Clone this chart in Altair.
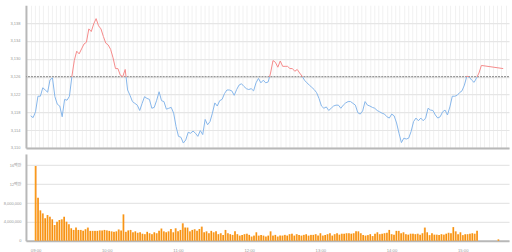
import json
import altair as alt
import pandas as pd

# ---- data (2-minute samples from 09:00, plus the 15:30 close) ----
price = [
    3117.2, 3116.8, 3118.1, 3121.6, 3121.6, 3123.5, 3123.0, 3122.5, 3125.3, 3125.7,
    3121.5, 3119.8, 3119.4, 3117.0, 3120.9, 3120.7, 3121.6, 3126.0, 3129.6, 3131.7,
    3131.1, 3132.2, 3133.3, 3133.7, 3136.7, 3136.1, 3137.8, 3139.0, 3137.4, 3136.7,
    3135.0, 3133.5, 3133.1, 3132.1, 3130.2, 3127.8, 3127.8, 3126.3, 3126.0, 3127.6,
    3123.0, 3121.8, 3120.4, 3120.0, 3119.6, 3118.4, 3120.0, 3121.5, 3121.1, 3120.9,
    3118.9, 3119.1, 3120.7, 3122.6, 3120.6, 3120.4, 3118.7, 3118.9, 3119.1, 3117.8,
    3114.8, 3112.6, 3112.4, 3111.1, 3111.8, 3113.5, 3113.3, 3113.8, 3113.3, 3112.6,
    3113.9, 3113.0, 3116.4, 3115.2, 3115.9, 3117.8, 3120.1, 3119.4, 3120.6, 3120.9,
    3122.2, 3123.0, 3123.0, 3122.8, 3121.8, 3123.1, 3124.1, 3124.4, 3123.8, 3123.3,
    3123.1, 3123.3, 3122.8, 3124.6, 3125.6, 3124.6, 3125.2, 3124.6, 3124.8, 3126.8,
    3129.6, 3129.2, 3128.1, 3129.5, 3128.3, 3128.3, 3128.3, 3127.8, 3127.8, 3127.2,
    3127.6, 3126.8, 3126.1, 3125.2, 3124.6, 3124.1, 3123.6, 3123.1, 3122.4, 3121.1,
    3119.4, 3118.9, 3119.2, 3118.4, 3118.9, 3119.4, 3119.6, 3119.6, 3118.9, 3119.6,
    3120.1, 3120.4, 3120.4, 3120.0, 3119.6, 3117.9, 3117.6, 3118.3, 3120.4, 3119.6,
    3119.4, 3119.1, 3118.9, 3118.4, 3118.1, 3117.8, 3117.6, 3117.0, 3116.7, 3117.6,
    3117.2, 3115.6, 3113.3, 3111.2, 3112.2, 3112.0, 3112.2, 3113.7, 3115.9, 3116.7,
    3116.1, 3116.7, 3116.1, 3116.7, 3118.9, 3118.5, 3118.4, 3117.4, 3116.7, 3117.0,
    3118.1, 3118.5, 3117.4, 3119.2, 3121.6, 3121.6, 3121.8, 3122.4, 3122.8, 3124.1,
    3126.1, 3125.9, 3125.2, 3124.7, 3125.7, 3126.8, 3128.5,
]
volume_m = [
    15.85, 9.1, 6.45, 5.8, 4.75, 5.45, 5.1, 4.55, 3.35, 4.05,
    4.4, 4.55, 5.1, 4.05, 3.5, 2.65, 2.3, 2.8, 2.3, 2.3,
    2.1, 2.45, 2.8, 2.1, 2.1, 2.1, 2.1, 2.2, 2.2, 2.3,
    2.2, 2.1, 2.0, 1.9, 2.0, 2.4, 2.2, 5.6, 1.9, 2.2,
    2.3, 1.8, 2.0, 1.7, 1.8, 1.5, 1.4, 1.9, 1.6, 1.4,
    1.8, 1.6, 2.1, 2.6, 2.0, 1.8, 2.0, 2.5, 1.8, 2.65,
    2.0, 2.3, 3.7, 2.8, 2.8, 2.0, 2.3, 2.45, 2.1, 2.5,
    3.0, 1.8, 2.0, 1.6, 2.1, 1.8, 2.0, 1.4, 1.6, 1.25,
    2.3, 1.6, 1.4, 1.25, 2.0, 1.4, 1.1, 1.25, 1.4, 1.5,
    1.25, 0.9, 1.1, 1.8, 1.1, 1.25, 1.1, 0.9, 1.1, 2.0,
    1.1, 1.25, 0.9, 1.1, 1.1, 1.25, 1.1, 1.4, 1.5, 1.1,
    1.4, 1.25, 1.1, 1.25, 1.4, 1.1, 1.25, 1.25, 1.4, 1.1,
    1.6, 1.1, 1.25, 1.4, 1.6, 1.1, 1.4, 1.6, 1.3, 1.5,
    1.5, 1.6, 1.6, 1.5, 1.6, 2.0, 2.0, 1.6, 1.2, 1.1,
    1.2, 1.4, 1.0, 1.5, 1.8, 1.4, 1.5, 1.6, 1.7, 2.3,
    1.4, 1.3, 2.1, 2.1, 1.6, 1.8, 1.4, 1.3, 1.5, 1.5,
    1.4, 1.5, 1.3, 1.6, 2.8, 1.8, 1.2, 1.6, 1.3, 1.3,
    1.2, 1.4, 1.3, 1.5, 1.7, 1.6, 2.9, 2.0, 1.4, 1.8,
    1.2, 1.4, 1.4, 1.5, 1.6, 1.5, 2.1,
]
close_price = 3127.8
close_volume_m = 0.3
step_min = 2
close_min = 390
prev_close = 3126
price_ticks = [3110, 3114, 3118, 3122, 3126, 3130, 3134, 3138]
vol_ticks = [0, 4, 8, 12, 16]
time_labels = ["09:00", "10:00", "11:00", "12:00", "13:00", "14:00", "15:00"]

minutes = [i * step_min for i in range(len(price))] + [close_min]
df = pd.DataFrame({
    "m": minutes,
    "price": price + [close_price],
    "vol": volume_m + [close_volume_m],
})

# ---- styling ----
W = 484
TOP_H = 143
BOT_H = 87
xdom = [-3.9, 394.8]
LABEL_FONT = "Liberation Sans, Noto Sans CJK KR"
LABEL_COLOR = "#9a9a9a"
AXIS_LINE = "#b8b8b8"

all_p = price + [close_price]
hi, lo = max(all_p), min(all_p)
off = (hi - prev_close) / (hi - lo)
RED = "#f58a8a"
BLUE = "#86b6ea"
line_grad = alt.LinearGradient(
    gradient="linear", x1=0, x2=0, y1=0, y2=1,
    stops=[alt.GradientStop(offset=0, color=RED),
           alt.GradientStop(offset=off, color=RED),
           alt.GradientStop(offset=off, color=BLUE),
           alt.GradientStop(offset=1, color=BLUE)],
)
bar_grad = alt.LinearGradient(
    gradient="linear", x1=0, x2=1, y1=0, y2=0,
    stops=[alt.GradientStop(offset=0, color="#ffb434"),
           alt.GradientStop(offset=1, color="#f27a00")],
)

vgrid = [k * 3.5 for k in range(0, 113)]

xscale = alt.Scale(domain=xdom, nice=False, zero=False)

x_top = alt.X("m:Q", scale=xscale, title=None,
              axis=alt.Axis(values=vgrid, labels=False, ticks=False, grid=True,
                            gridColor="#f1f1f1", gridWidth=1,
                            domainColor=AXIS_LINE, domainWidth=2))
top_axis = alt.Axis(values=price_ticks, format=",d", ticks=False,
                    labelOverlap=False,
                    gridColor="#e6e6e6", gridWidth=1.2,
                    domainColor=AXIS_LINE, domainWidth=2,
                    labelFont=LABEL_FONT, labelFontSize=4,
                    labelColor=LABEL_COLOR, labelPadding=6)
top_scale = alt.Scale(domain=[3110, 3142], nice=False, zero=False)

ref = alt.Chart(pd.DataFrame({"price": [prev_close]})).mark_rule(
    color="#999999", strokeWidth=1.2, strokeDash=[2, 1]
).encode(y=alt.Y("price:Q", scale=top_scale, axis=top_axis, title=None))

line = alt.Chart(df).mark_line(strokeWidth=1, color=line_grad).encode(
    x=x_top, y=alt.Y("price:Q", scale=top_scale, axis=top_axis, title=None)
)

top = alt.layer(ref, line).properties(width=W, height=TOP_H)

time_expr = json.dumps(time_labels).replace('"', "'") + "[round(datum.value/60)]"
x_bot = alt.X("m:Q", scale=xscale, title=None,
              axis=alt.Axis(values=[i * 60 for i in range(len(time_labels))],
                            labelExpr=time_expr, ticks=False, grid=False,
                            labelOverlap=False,
                            domainColor=AXIS_LINE, domainWidth=2,
                            labelFont=LABEL_FONT, labelFontSize=4.2,
                            labelColor=LABEL_COLOR, labelPadding=8))
vol_expr = ("datum.value >= 12 ? datum.value + '백만' : "
            "(datum.value == 0 ? '0' : format(datum.value * 1000000, ','))")
y_bot = alt.Y("vol:Q", title=None,
              scale=alt.Scale(domain=[0, 18.4], nice=False),
              axis=alt.Axis(values=vol_ticks, labelExpr=vol_expr, ticks=False,
                            labelOverlap=False,
                            gridColor="#e6e6e6", gridWidth=1.2,
                            domainColor=AXIS_LINE, domainWidth=2,
                            labelFont=LABEL_FONT, labelFontSize=4,
                            labelColor=LABEL_COLOR, labelPadding=5))

bars = alt.Chart(df).mark_bar(size=1.8, color=bar_grad).encode(
    x=x_bot, y=y_bot
).properties(width=W, height=BOT_H)

chart = alt.vconcat(top, bars, spacing=4).properties(
    padding={"left": 3, "top": 5, "right": 2, "bottom": 0},
    background="white",
).configure_view(stroke=None)

chart.save("out.html", embed_options={"renderer": "svg", "actions": False})
